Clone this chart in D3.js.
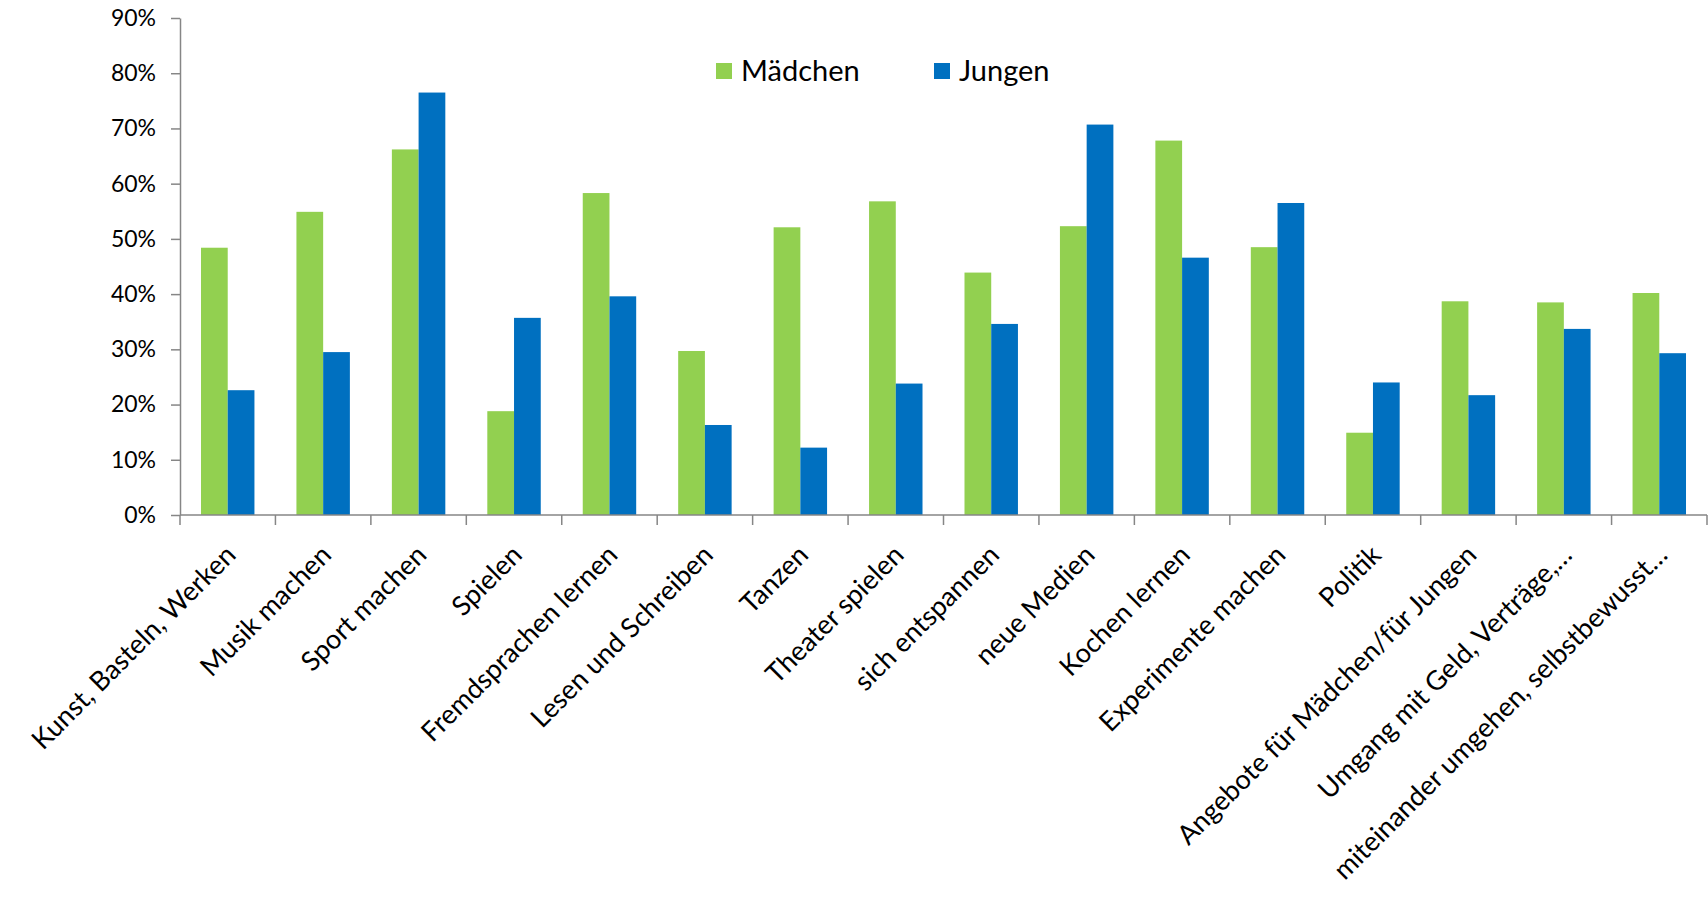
<!DOCTYPE html>
<html>
<head>
<meta charset="utf-8">
<script src="https://cdn.jsdelivr.net/npm/d3@7"></script>
<style>
  body { margin: 0; background: #fff; }
  svg { display: block; font-family: Lato, "Open Sans", sans-serif; }
</style>
</head>
<body>
<div id="chart"></div>
<script>
// categories and values
const categories = [
  "Kunst, Basteln, Werken", "Musik machen", "Sport machen", "Spielen",
  "Fremdsprachen lernen", "Lesen und Schreiben", "Tanzen", "Theater spielen",
  "sich entspannen", "neue Medien", "Kochen lernen", "Experimente machen",
  "Politik", "Angebote für Mädchen/für Jungen", "Umgang mit Geld, Verträge,…",
  "miteinander umgehen, selbstbewusst…"
];
const maedchen = [48.4, 54.9, 66.2, 18.8, 58.3, 29.7, 52.1, 56.8, 43.9, 52.3, 67.8, 48.5, 14.9, 38.7, 38.5, 40.2];
const jungen   = [22.6, 29.5, 76.5, 35.7, 39.6, 16.3, 12.2, 23.8, 34.6, 70.7, 46.6, 56.5, 24.0, 21.7, 33.7, 29.3];
const seriesNames = ["Mädchen", "Jungen"];
const yTicks = [0, 10, 20, 30, 40, 50, 60, 70, 80, 90];

const width = 1708, height = 902;
const margin = { left: 180, right: 1, top: 18, bottom: 387 };
const colors = { "Mädchen": "#92D050", "Jungen": "#0070C0" };

const svg = d3.select("#chart").append("svg")
  .attr("width", width)
  .attr("height", height);

const x = d3.scaleBand()
  .domain(categories)
  .range([margin.left, width - margin.right])
  .paddingInner(0.44)
  .paddingOuter(0.22);

const x1 = d3.scaleBand()
  .domain(seriesNames)
  .range([0, x.bandwidth()]);

const y = d3.scaleLinear()
  .domain([0, 90])
  .range([height - margin.bottom, margin.top]);

const rows = categories.map((c, i) => ({ cat: c, values: [
  { key: "Mädchen", value: maedchen[i] },
  { key: "Jungen", value: jungen[i] }
]}));

const grp = svg.append("g").selectAll("g")
  .data(rows)
  .enter().append("g")
  .attr("transform", d => `translate(${x(d.cat)},0)`);

grp.selectAll("rect")
  .data(d => d.values)
  .enter().append("rect")
  .attr("x", d => x1(d.key))
  .attr("y", d => y(d.value))
  .attr("width", x1.bandwidth())
  .attr("height", d => y(0) - y(d.value))
  .attr("fill", d => colors[d.key]);

// y axis
const yAxis = svg.append("g")
  .attr("transform", `translate(${margin.left},0)`)
  .call(d3.axisLeft(y).tickValues(yTicks).tickFormat(d => d + "%").tickSize(9).tickSizeOuter(0));
yAxis.select(".domain").attr("stroke", "#868686").attr("stroke-width", 1.5);
yAxis.selectAll(".tick line").attr("stroke", "#868686").attr("stroke-width", 1.5);
yAxis.selectAll(".tick text")
  .attr("x", -24)
  .style("font-size", "23px")
  .style("font-family", "Lato, sans-serif")
  .attr("fill", "#000");

// x axis with ticks between categories
const step = x.step();
const xAxisG = svg.append("g");
xAxisG.append("line")
  .attr("x1", margin.left).attr("x2", width - margin.right)
  .attr("y1", y(0)).attr("y2", y(0))
  .attr("stroke", "#868686").attr("stroke-width", 1.5);
xAxisG.selectAll("line.tk")
  .data(d3.range(categories.length + 1))
  .enter().append("line")
  .attr("class", "tk")
  .attr("x1", i => margin.left + i * step)
  .attr("x2", i => margin.left + i * step)
  .attr("y1", y(0))
  .attr("y2", y(0) + 10)
  .attr("stroke", "#868686").attr("stroke-width", 1.5);

xAxisG.selectAll("text")
  .data(categories)
  .enter().append("text")
  .attr("transform", d => `translate(${x(d) + x.bandwidth() / 2 + 3},${y(0) + 35}) rotate(-45)`)
  .attr("text-anchor", "end")
  .attr("dy", "0.35em")
  .style("font-size", "27px")
  .text(d => d);

// legend
const legend = svg.append("g");
const legendItems = [
  { key: "Mädchen", x: 716 },
  { key: "Jungen", x: 934 }
];
legend.selectAll("rect")
  .data(legendItems)
  .enter().append("rect")
  .attr("x", d => d.x).attr("y", 63)
  .attr("width", 16).attr("height", 16)
  .attr("fill", d => colors[d.key]);
legend.selectAll("text")
  .data(legendItems)
  .enter().append("text")
  .attr("x", d => d.x + 25).attr("y", 71)
  .attr("dy", "0.35em")
  .style("font-size", "29px")
  .text(d => d.key);
</script>
</body>
</html>
